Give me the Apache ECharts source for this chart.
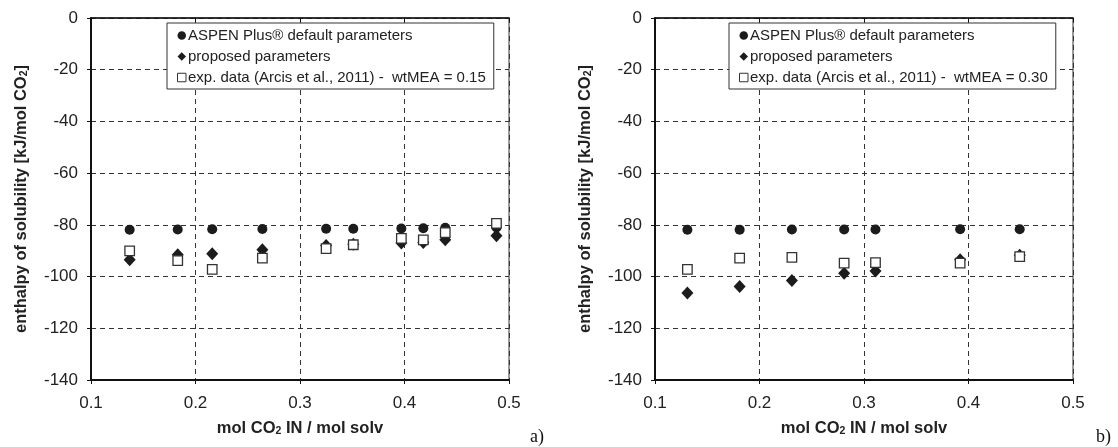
<!DOCTYPE html>
<html>
<head>
<meta charset="utf-8">
<script src="https://cdn.jsdelivr.net/npm/echarts@6/dist/echarts.min.js"></script>
<style>
  html, body { margin: 0; padding: 0; background: #fff; }
  #chart { width: 1118px; height: 447px; }
</style>
</head>
<body>
<div id="chart"></div>
<script>
// Panel a): wtMEA = 0.15
const loadingA = [0.137, 0.183, 0.216, 0.264, 0.325, 0.351, 0.397, 0.418, 0.439, 0.488];
const aspenA   = [-81.9, -81.8, -81.7, -81.6, -81.5, -81.5, -81.4, -81.3, -81.1, -81.0];
const proposedA = [-93.5, -91.6, -91.2, -89.6, -88.0, -87.5, -87.0, -86.8, -85.8, -84.2];
const expA     = [-90.1, -93.8, -97.2, -92.9, -89.2, -87.7, -85.2, -85.8, -83.0, -79.4];

// Panel b): wtMEA = 0.30
const loadingB = [0.131, 0.181, 0.231, 0.281, 0.311, 0.392, 0.449];
const aspenB   = [-81.9, -81.9, -81.8, -81.8, -81.8, -81.7, -81.7];
const proposedB = [-106.4, -103.8, -101.5, -98.7, -97.8, -93.5, -91.8];
const expB     = [-97.2, -92.9, -92.6, -94.8, -94.6, -94.8, -92.3];

const nameAspen = 'ASPEN Plus® default parameters';
const nameProposed = 'proposed parameters';
const nameExpA = 'exp. data (Arcis et al., 2011) -  wtMEA = 0.15';
const nameExpB = 'exp. data (Arcis et al., 2011) -  wtMEA = 0.30';

const FONT = '"Liberation Sans", Arial, sans-serif';
const INK = '#222';

const pairs = (xs, ys) => xs.map((x, i) => [x, ys[i]]);

const gridLeft = [91, 655];
const gridW = 418, gridH = 362, gridTop = 18;

const richTitle = {
  b: { fontFamily: FONT, fontWeight: 'bold', fontSize: 16.5, color: INK },
  s: { fontFamily: FONT, fontWeight: 'bold', fontSize: 10.5, color: INK, verticalAlign: 'bottom', padding: [7, 0, 0, 0] }
};

function xAxisFor(gi) {
  return {
    type: 'value', gridIndex: gi, min: 0.1, max: 0.5, interval: 0.1,
    name: '{b|mol CO}{s|2}{b| IN / mol solv}',
    nameLocation: 'middle', nameGap: 39,
    nameTextStyle: { rich: richTitle },
    axisLine: { onZero: false, lineStyle: { color: '#111', width: 2 } },
    axisTick: { show: true, inside: false, length: 4, lineStyle: { color: '#111' } },
    axisLabel: { fontFamily: FONT, fontSize: 17, color: INK, margin: 15,
                 formatter: v => v.toFixed(1) },
    splitLine: { show: true, lineStyle: { color: '#333', type: [5, 4], width: 1 } }
  };
}
function topAxisFor(gi) {
  return {
    type: 'value', gridIndex: gi, position: 'top', min: 0.1, max: 0.5, interval: 0.1,
    axisLine: { show: true, lineStyle: { color: '#111', width: 1.5 } },
    axisTick: { show: true, inside: true, length: 4, lineStyle: { color: '#111' } },
    axisLabel: { show: false },
    splitLine: { show: false }
  };
}
function yAxisFor(gi) {
  return {
    type: 'value', gridIndex: gi, min: -140, max: 0, interval: 20,
    name: '{b|enthalpy of solubility [kJ/mol CO}{s|2}{b|]}',
    nameLocation: 'middle', nameGap: 61, nameRotate: 90,
    nameTextStyle: { rich: richTitle },
    axisLine: { onZero: false, lineStyle: { color: '#111', width: 2 } },
    axisTick: { show: true, length: 4, lineStyle: { color: '#111' } },
    axisLabel: { fontFamily: FONT, fontSize: 17, color: INK, margin: 13 },
    splitLine: { show: true, lineStyle: { color: '#333', type: [5, 4], width: 1 } }
  };
}

function seriesFor(gi, xs, aspen, proposed, exp, expName) {
  return [
    { name: nameAspen, type: 'scatter', xAxisIndex: gi, yAxisIndex: gi,
      symbol: 'circle', symbolSize: 10, z: 3,
      itemStyle: { color: '#1c1c1c', opacity: 1 },
      data: pairs(xs, aspen) },
    { name: nameProposed, type: 'scatter', xAxisIndex: gi, yAxisIndex: gi,
      symbol: 'diamond', symbolSize: [12, 13], z: 4,
      itemStyle: { color: '#1c1c1c', opacity: 1 },
      data: pairs(xs, proposed) },
    { name: expName, type: 'scatter', xAxisIndex: gi, yAxisIndex: gi,
      symbol: 'rect', symbolSize: 9.5, z: 5,
      itemStyle: { color: '#fff', borderColor: '#333', borderWidth: 1.3, opacity: 1 },
      data: pairs(xs, exp) }
  ];
}

function legendFor(left, expName) {
  return {
    left: left, top: 23, orient: 'vertical',
    data: [
      { name: nameAspen, icon: 'circle', itemStyle: { color: '#1c1c1c' } },
      { name: nameProposed, icon: 'diamond', itemStyle: { color: '#1c1c1c' } },
      { name: expName, icon: 'rect', itemStyle: { color: '#fff', borderColor: '#333', borderWidth: 1 } }
    ],
    itemWidth: 8.5, itemHeight: 8.5, itemGap: 6,
    padding: [5, 8, 4, 10],
    borderColor: '#333', borderWidth: 1, backgroundColor: '#fff',
    selectedMode: false,
    textStyle: { fontFamily: FONT, fontSize: 15, color: INK, padding: [0, 0, 0, -3] }
  };
}

const chart = echarts.init(document.getElementById('chart'), null, { renderer: 'canvas' });

chart.setOption({
  animation: false,
  backgroundColor: '#fff',
  grid: gridLeft.map(l => ({
    left: l, top: gridTop, width: gridW, height: gridH,
    show: true, borderColor: '#777', borderWidth: 1.5, backgroundColor: 'transparent'
  })),
  xAxis: [xAxisFor(0), xAxisFor(1), topAxisFor(0), topAxisFor(1)],
  yAxis: [yAxisFor(0), yAxisFor(1)],
  legend: [legendFor(167, nameExpA), legendFor(729, nameExpB)],
  series: [
    ...seriesFor(0, loadingA, aspenA, proposedA, expA, nameExpA),
    ...seriesFor(1, loadingB, aspenB, proposedB, expB, nameExpB)
  ],
  graphic: [
    { type: 'text', left: 530, top: 428,
      style: { text: 'a)', font: '18px "Liberation Serif", "Times New Roman", serif', fill: '#111' } },
    { type: 'text', left: 1096, top: 428,
      style: { text: 'b)', font: '18px "Liberation Serif", "Times New Roman", serif', fill: '#111' } }
  ]
});
</script>
</body>
</html>
